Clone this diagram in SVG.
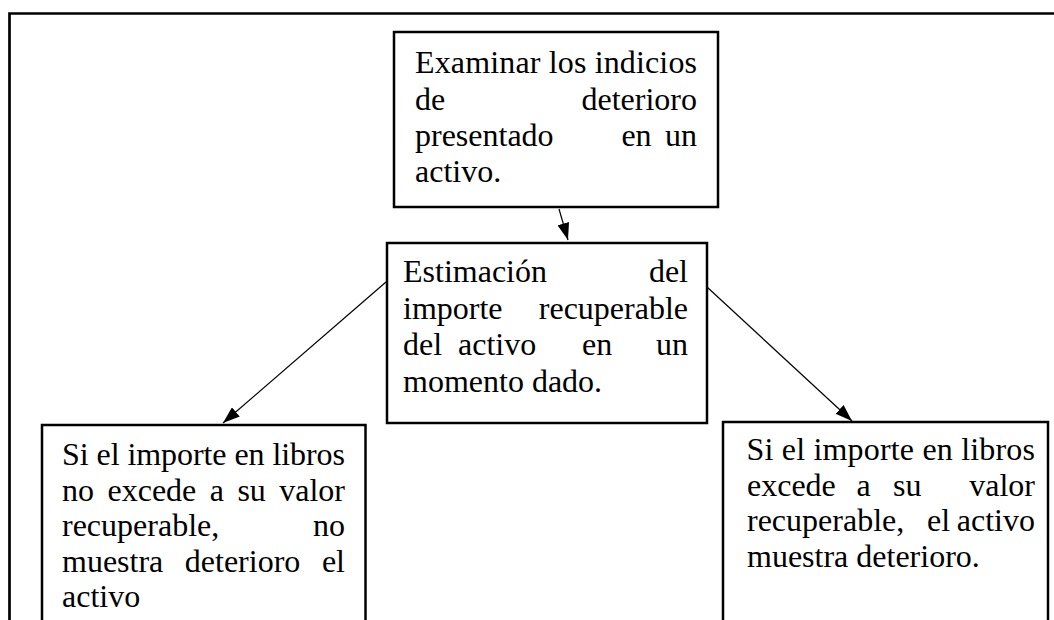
<svg xmlns="http://www.w3.org/2000/svg" width="1054" height="620" viewBox="0 0 1054 620">
<defs>
<style>
.box{fill:#fff;stroke:#000;stroke-width:2.5}
.t{font-family:"Liberation Serif","Times New Roman",serif;font-size:32px;fill:#000}
.e{text-anchor:end}
.m{text-anchor:middle}
.c{stroke:#000;stroke-width:1.2;fill:none;marker-end:url(#ah)}
</style>
<marker id="ah" viewBox="0 0 17 12" refX="17" refY="6" markerWidth="17" markerHeight="12" markerUnits="userSpaceOnUse" orient="auto">
<path d="M0,0 L17,6 L0,12 z" fill="#000"/>
</marker>
</defs>
<rect width="1054" height="620" fill="#fff"/>
<path d="M9.5,620 V13.5 H1054" fill="none" stroke="#000" stroke-width="2.7"/>
<g id="connectors">
<line class="c" x1="559" y1="209" x2="568" y2="240"/>
<line class="c" x1="386" y1="282" x2="223" y2="423"/>
<line class="c" x1="707" y1="287" x2="852" y2="421"/>
</g>
<g id="n1">
<rect class="box" x="394" y="32" width="324" height="175"/>
<text class="t" x="415" y="73" textLength="282" lengthAdjust="spacing">Examinar los indicios</text>
<text class="t" x="415" y="109.5">de</text>
<text class="t e" x="697" y="109.5">deterioro</text>
<text class="t" x="415" y="145.5">presentado</text>
<text class="t m" x="636.5" y="145.5">en</text>
<text class="t e" x="697" y="145.5">un</text>
<text class="t" x="415" y="182">activo.</text>
</g>
<g id="n2">
<rect class="box" x="387" y="243" width="320" height="180"/>
<text class="t" x="403" y="282">Estimación</text>
<text class="t e" x="688" y="282">del</text>
<text class="t" x="403" y="318.5">importe</text>
<text class="t e" x="688" y="318.5">recuperable</text>
<text class="t" x="403" y="355">del</text>
<text class="t" x="458" y="355">activo</text>
<text class="t" x="582" y="355">en</text>
<text class="t e" x="688" y="355">un</text>
<text class="t" x="403" y="391.5">momento dado.</text>
</g>
<g id="n3">
<rect class="box" x="42" y="425" width="323.5" height="210"/>
<text class="t" x="62" y="465" textLength="283" lengthAdjust="spacing">Si el importe en libros</text>
<text class="t" x="62" y="500.5">no</text>
<text class="t" x="107.5" y="500.5">excede</text>
<text class="t" x="209.7" y="500.5">a</text>
<text class="t" x="237.4" y="500.5">su</text>
<text class="t e" x="345" y="500.5">valor</text>
<text class="t" x="62" y="536">recuperable,</text>
<text class="t e" x="345" y="536">no</text>
<text class="t" x="62" y="571.5">muestra</text>
<text class="t" x="184.8" y="571.5">deterioro</text>
<text class="t e" x="345" y="571.5">el</text>
<text class="t" x="62" y="607">activo</text>
</g>
<g id="n4">
<rect class="box" x="723" y="422" width="325" height="210"/>
<text class="t" x="746.5" y="459.5" textLength="288.5" lengthAdjust="spacing">Si el importe en libros</text>
<text class="t" x="747" y="495.5">excede</text>
<text class="t" x="856.5" y="495.5">a</text>
<text class="t" x="893" y="495.5">su</text>
<text class="t e" x="1035" y="495.5">valor</text>
<text class="t" x="747" y="531">recuperable,</text>
<text class="t" x="927" y="531">el</text>
<text class="t e" x="1035" y="531">activo</text>
<text class="t" x="747" y="566.5">muestra deterioro.</text>
</g>
</svg>
